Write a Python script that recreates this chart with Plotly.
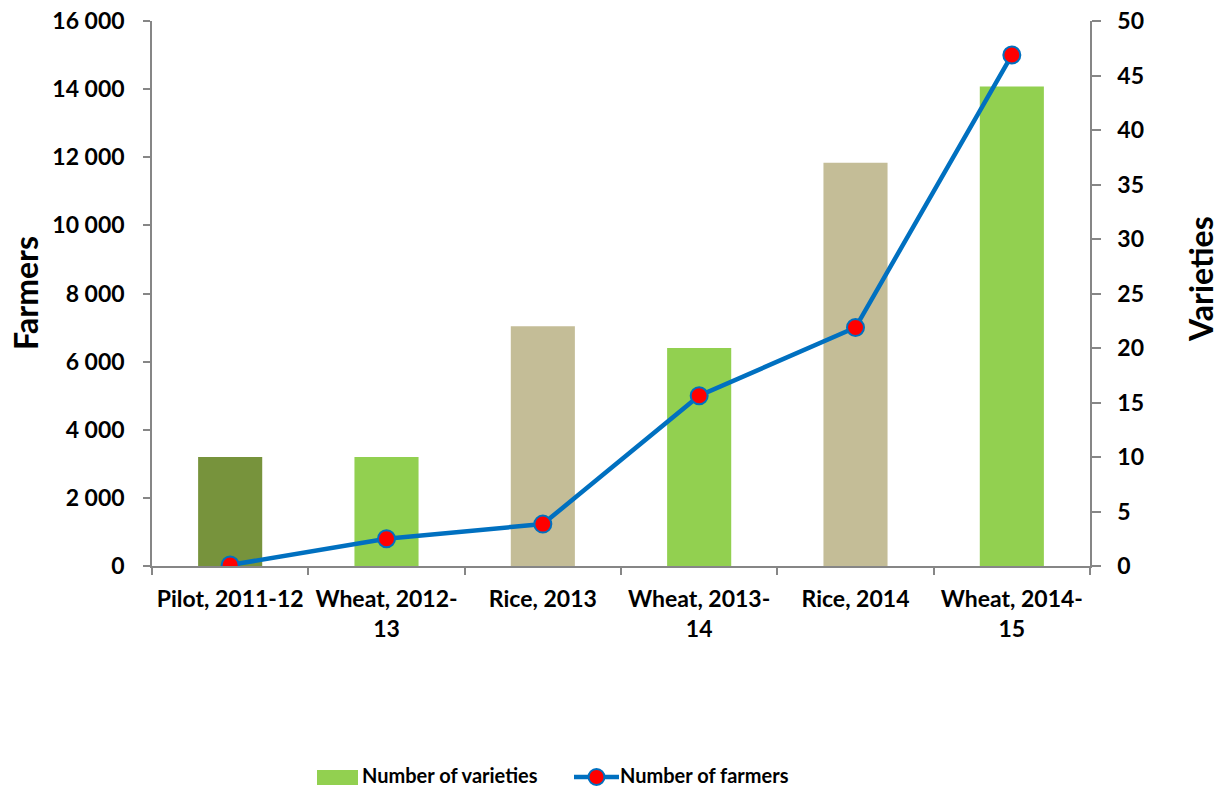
import plotly.graph_objects as go

# Seasons on the category axis
seasons = [
    "Pilot, 2011-12",
    "Wheat, 2012-<br>13",
    "Rice, 2013",
    "Wheat, 2013-<br>14",
    "Rice, 2014",
    "Wheat, 2014-<br>15",
]
# Number of varieties per season (right axis)
varieties = [10, 10, 22, 20, 37, 44]
# Number of farmers per season (left axis)
farmers = [30, 800, 1230, 5000, 7000, 15000]

bar_colors = ["#77933C", "#92D050", "#C4BD97", "#92D050", "#C4BD97", "#92D050"]

W, H = 1219, 789
ML, MR, MT, MB = 152, 129, 21, 223
PW, PH = W - ML - MR, H - MT - MB

def px_x(x):
    return (x - ML) / PW

def px_y(y):
    return (H - MB - y) / PH

FONT = "Lato"
AXIS_GRAY = "#868686"

fig = go.Figure()

fig.add_trace(go.Bar(
    x=seasons, y=varieties, yaxis="y",
    marker=dict(color=bar_colors, line=dict(width=0)),
    name="Number of varieties", showlegend=False,
))

fig.add_trace(go.Scatter(
    x=seasons, y=farmers, yaxis="y2",
    mode="lines+markers",
    line=dict(color="#0070C0", width=4.5),
    marker=dict(color="#FF0000", size=17, line=dict(color="#0070C0", width=2)),
    name="Number of farmers", showlegend=False,
))

tick_font = dict(family=FONT, size=23, color="black", weight="bold")

fig.update_layout(
    width=W, height=H,
    margin=dict(l=ML, r=MR, t=MT, b=MB, autoexpand=False),
    paper_bgcolor="white", plot_bgcolor="white",
    separators=". ",
    bargap=0.59,
    showlegend=False,
    xaxis=dict(
        type="category",
        tickson="boundaries",
        ticks="outside", ticklen=7, tickwidth=1.5, tickcolor=AXIS_GRAY,
        showline=True, linecolor=AXIS_GRAY, linewidth=1.5,
        showgrid=False,
        tickfont=tick_font,
        ticklabelstandoff=12,
        tickangle=0,
        automargin=False,
    ),
    yaxis=dict(
        side="right",
        range=[0, 50], dtick=5,
        ticks="outside", ticklen=9, tickwidth=1.5, tickcolor=AXIS_GRAY,
        showline=True, linecolor=AXIS_GRAY, linewidth=1.5,
        showgrid=False, zeroline=False,
        tickfont=tick_font,
        ticklabelstandoff=12,
        automargin=False,
    ),
    yaxis2=dict(
        overlaying="y", side="left",
        range=[0, 16000], dtick=2000, tickformat=",d",
        ticks="outside", ticklen=7, tickwidth=1.5, tickcolor=AXIS_GRAY,
        showline=True, linecolor=AXIS_GRAY, linewidth=1.5,
        showgrid=False, zeroline=False,
        tickfont=tick_font,
        ticklabelstandoff=14,
        automargin=False,
    ),
)

title_font = dict(family=FONT, size=32, color="black", weight="bold")
fig.add_annotation(text="Farmers", xref="paper", yref="paper",
                   x=px_x(25), y=px_y(293), textangle=-90,
                   showarrow=False, font=title_font,
                   xanchor="center", yanchor="middle")
fig.add_annotation(text="Varieties", xref="paper", yref="paper",
                   x=px_x(1200), y=px_y(279), textangle=-90,
                   showarrow=False, font=title_font,
                   xanchor="center", yanchor="middle")

# Legend drawn below the plot
leg_font = dict(family=FONT, size=20, color="black", weight="bold")
leg_y = 777
fig.add_shape(type="rect", xref="paper", yref="paper",
              x0=px_x(317), x1=px_x(358), y0=px_y(785), y1=px_y(770),
              fillcolor="#92D050", line=dict(width=0))
fig.add_annotation(text="Number of varieties", xref="paper", yref="paper",
                   x=px_x(361), y=px_y(leg_y - 2), showarrow=False,
                   font=leg_font, xanchor="left", yanchor="middle", borderpad=0)
fig.add_shape(type="line", xref="paper", yref="paper",
              x0=px_x(574), x1=px_x(619), y0=px_y(leg_y), y1=px_y(leg_y),
              line=dict(color="#0070C0", width=4.5))
fig.add_shape(type="circle", xref="paper", yref="paper",
              x0=px_x(588.5), x1=px_x(604.5), y0=px_y(leg_y + 8), y1=px_y(leg_y - 8),
              fillcolor="#FF0000", line=dict(color="#0070C0", width=2))
fig.add_annotation(text="Number of farmers", xref="paper", yref="paper",
                   x=px_x(619), y=px_y(leg_y - 2), showarrow=False,
                   font=leg_font, xanchor="left", yanchor="middle", borderpad=0)

fig.write_html("out.html")
